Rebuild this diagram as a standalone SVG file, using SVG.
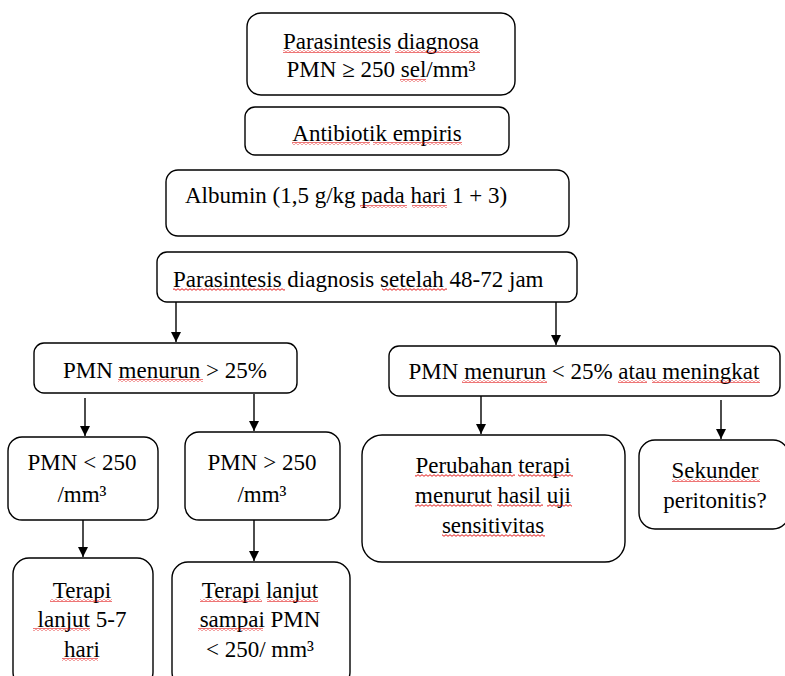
<svg xmlns="http://www.w3.org/2000/svg" width="785" height="676" viewBox="0 0 785 676">
<style>
.box{fill:#fff;stroke:#000;stroke-width:1.4}
.t{font-family:"Liberation Serif","Times New Roman",serif;font-size:23px;fill:#000}
.c{text-anchor:middle}
.ln{stroke:#000;stroke-width:1.4;fill:none}
.sq{fill:url(#wave)}
</style>
<defs>
<marker id="ah" viewBox="0 0 10 10" refX="10" refY="5" markerWidth="10" markerHeight="10" markerUnits="userSpaceOnUse" orient="auto">
<path d="M0,0 L10,5 L0,10 z" fill="#000"/>
</marker>
<pattern id="wave" patternUnits="userSpaceOnUse" width="4" height="3">
<path d="M0,2.3 L2,0.7 L4,2.3" stroke="#e00000" stroke-width="0.9" fill="none"/>
</pattern>
</defs>
<rect width="785" height="676" fill="#fff"/>
<g id="connectors">
<line class="ln" x1="176" y1="302" x2="176" y2="342" marker-end="url(#ah)"/>
<line class="ln" x1="556" y1="302" x2="556" y2="345" marker-end="url(#ah)"/>
<line class="ln" x1="85" y1="398" x2="85" y2="436" marker-end="url(#ah)"/>
<line class="ln" x1="254" y1="394" x2="254" y2="431" marker-end="url(#ah)"/>
<line class="ln" x1="481" y1="396" x2="481" y2="434" marker-end="url(#ah)"/>
<line class="ln" x1="721" y1="400" x2="721" y2="439" marker-end="url(#ah)"/>
<line class="ln" x1="83" y1="520" x2="83" y2="557" marker-end="url(#ah)"/>
<line class="ln" x1="254" y1="520" x2="254" y2="561" marker-end="url(#ah)"/>
</g>
<g id="n1"><rect class="box" x="247" y="13" width="268" height="82" rx="14"/>
<text class="t c" x="381" y="49">Parasintesis diagnosa</text>
<text class="t c" x="381" y="77">PMN ≥ 250 sel/mm³</text></g>
<g id="n2"><rect class="box" x="245" y="107" width="264" height="48" rx="10"/>
<text class="t c" x="377" y="141">Antibiotik empiris</text></g>
<g id="n3"><rect class="box" x="166" y="170" width="403" height="66" rx="12"/>
<text class="t" x="185" y="203">Albumin (1,5 g/kg pada hari 1 + 3)</text></g>
<g id="n4"><rect class="box" x="157" y="252" width="420" height="50" rx="10"/>
<text class="t" x="173" y="287">Parasintesis diagnosis setelah 48-72 jam</text></g>
<g id="n5"><rect class="box" x="34" y="343" width="263" height="50" rx="10"/>
<text class="t c" x="165" y="378">PMN menurun &gt; 25%</text></g>
<g id="n6"><rect class="box" x="389" y="346" width="391" height="50" rx="10"/>
<text class="t c" x="584" y="379">PMN menurun &lt; 25% atau meningkat</text></g>
<g id="n7"><rect class="box" x="8" y="437" width="150" height="83" rx="14"/>
<text class="t c" x="82" y="470">PMN &lt; 250</text>
<text class="t c" x="82" y="502">/mm³</text></g>
<g id="n8"><rect class="box" x="185" y="432" width="155" height="88" rx="14"/>
<text class="t c" x="262" y="470">PMN &gt; 250</text>
<text class="t c" x="262" y="502">/mm³</text></g>
<g id="n9"><rect class="box" x="13" y="558" width="140" height="130" rx="16"/>
<text class="t c" x="82" y="598">Terapi</text>
<text class="t c" x="82" y="627">lanjut 5-7</text>
<text class="t c" x="82" y="657">hari</text></g>
<g id="n10"><rect class="box" x="172" y="562" width="178" height="126" rx="16"/>
<text class="t c" x="260" y="598">Terapi lanjut</text>
<text class="t c" x="260" y="627">sampai PMN</text>
<text class="t c" x="260" y="657">&lt; 250/ mm³</text></g>
<g id="n11"><rect class="box" x="362" y="435" width="263" height="127" rx="20"/>
<text class="t c" x="493" y="473">Perubahan terapi</text>
<text class="t c" x="493" y="503">menurut hasil uji</text>
<text class="t c" x="493" y="533">sensitivitas</text></g>
<g id="n12"><rect class="box" x="639" y="440" width="150" height="89" rx="16"/>
<text class="t c" x="715" y="478">Sekunder</text>
<text class="t c" x="715" y="508">peritonitis?</text></g>
<g id="spellcheck">
<rect class="sq" x="283" y="50" width="107" height="3"/>
<rect class="sq" x="395" y="50" width="85" height="3"/>
<rect class="sq" x="400" y="79" width="26" height="3"/>
<rect class="sq" x="292" y="142" width="78" height="3"/>
<rect class="sq" x="373" y="142" width="89" height="3"/>
<rect class="sq" x="360" y="205" width="47" height="3"/>
<rect class="sq" x="412" y="205" width="35" height="3"/>
<rect class="sq" x="173" y="288" width="112" height="3"/>
<rect class="sq" x="382" y="288" width="65" height="3"/>
<rect class="sq" x="118" y="379" width="85" height="3"/>
<rect class="sq" x="462" y="380" width="85" height="3"/>
<rect class="sq" x="618" y="380" width="29" height="3"/>
<rect class="sq" x="652" y="380" width="108" height="3"/>
<rect class="sq" x="50" y="599" width="62" height="3"/>
<rect class="sq" x="33" y="628" width="57" height="3"/>
<rect class="sq" x="62" y="658" width="36" height="3"/>
<rect class="sq" x="200" y="599" width="62" height="3"/>
<rect class="sq" x="267" y="599" width="51" height="3"/>
<rect class="sq" x="198" y="628" width="65" height="3"/>
<rect class="sq" x="415" y="474" width="100" height="3"/>
<rect class="sq" x="518" y="474" width="55" height="3"/>
<rect class="sq" x="415" y="504" width="77" height="3"/>
<rect class="sq" x="497" y="504" width="46" height="3"/>
<rect class="sq" x="547" y="504" width="25" height="3"/>
<rect class="sq" x="442" y="534" width="103" height="3"/>
<rect class="sq" x="672" y="479" width="88" height="3"/>
</g>
</svg>
